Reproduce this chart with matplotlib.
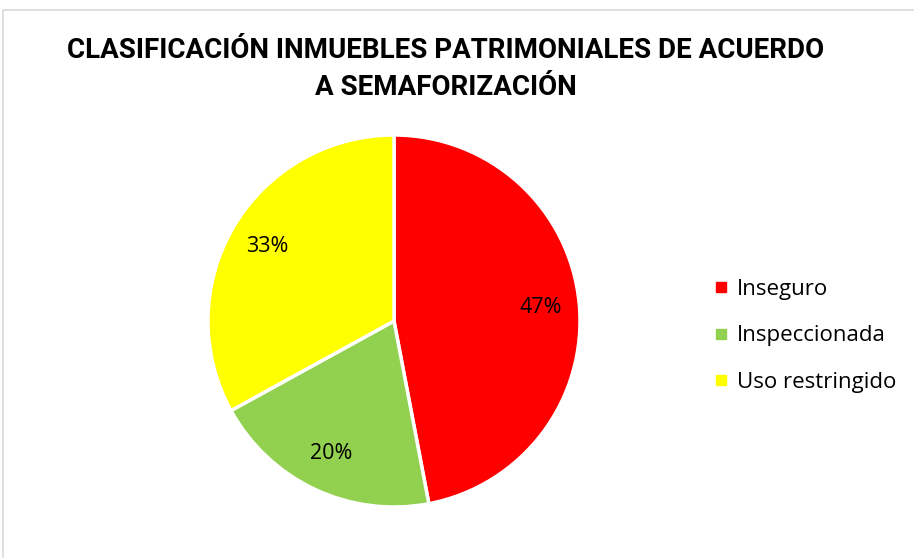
import matplotlib
matplotlib.use("Agg")
import matplotlib.pyplot as plt
from matplotlib.patches import Rectangle
from matplotlib.lines import Line2D

categories = ["Inseguro", "Inspeccionada", "Uso restringido"]
values = [47, 20, 33]
colors = ["#FF0000", "#92D050", "#FFFF00"]
title = "CLASIFICACIÓN INMUEBLES PATRIMONIALES DE ACUERDO\nA SEMAFORIZACIÓN"

plt.rcParams['font.family'] = ['Open Sans', 'DejaVu Sans']

W, H = 914, 558
fig = plt.figure(figsize=(W/100, H/100), dpi=100)
fig.patch.set_facecolor("white")

# border (partially cropped)
fig.patches.append(Rectangle((3/W, -0.05), 1.05, 1 - 10/H + 0.05, transform=fig.transFigure,
                             fill=False, edgecolor="#D9D9D9", linewidth=1.2))

cx, cy, r = 394, 321, 186
ax = fig.add_axes([(cx - r)/W, (H - cy - r)/H, 2*r/W, 2*r/H])
wedges, texts, autotexts = ax.pie(values, colors=colors, startangle=90, counterclock=False,
                                  autopct='%1.0f%%', pctdistance=0.79,
                                  wedgeprops=dict(edgecolor="white", linewidth=2.5),
                                  textprops=dict(fontsize=15.5, color="#000000"))
ax.set_aspect('equal')
ax.set_xlim(-1, 1)
ax.set_ylim(-1, 1)

fig.text(446/W, 1 - 69/H, title, ha='center', va='center', fontsize=20,
         fontweight='bold', family=['Roboto', 'DejaVu Sans'], linespacing=1.5)

handles = [Line2D([], [], marker='s', linestyle='', markersize=7, markerfacecolor=c,
                  markeredgecolor=c) for c in colors]
leg = fig.legend(handles, categories, loc='center left', bbox_to_anchor=(705/W, 1 - 336/H),
                 frameon=False, fontsize=16, handlelength=0.6, handletextpad=0.45,
                 labelspacing=1.15, borderaxespad=0)

fig.savefig("out.png", dpi=100)
